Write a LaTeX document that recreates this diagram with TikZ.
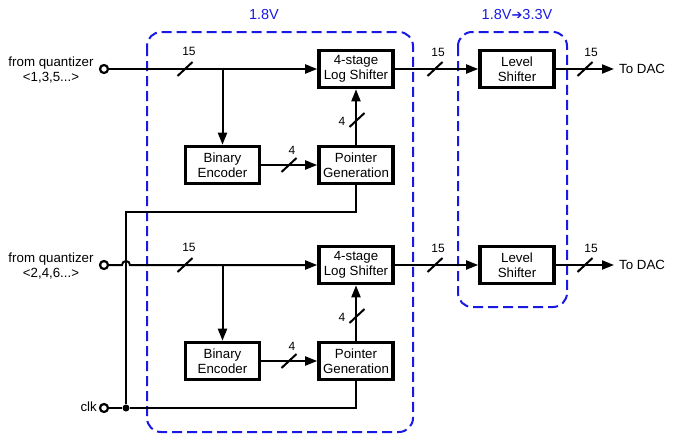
\documentclass[tikz,border=0pt]{standalone}
\usepackage{fontspec}
\setmainfont{Liberation Sans}
\newfontfamily\arrowfont{DejaVu Sans}
\usetikzlibrary{arrows.meta,calc}
\definecolor{dblue}{RGB}{25,25,230}
\newcommand\fmain{\fontsize{13.3}{15}\selectfont}
\newcommand\fsmall{\fontsize{12}{13}\selectfont}
\newcommand\fvolt{\fontsize{14.5}{17}\selectfont}
\begin{document}
\begin{tikzpicture}[x=1pt,y=-1pt,
  wire/.style={line width=2pt},
  arr/.style={wire,-{Triangle[length=12pt,width=9pt]}},
  blk/.style={draw,line width=3.6pt,minimum width=74pt,minimum height=37pt,inner sep=0pt,align=center,font=\fmain},
  term/.style={circle,draw,line width=2.2pt,fill=white,minimum size=8pt,inner sep=0pt},
  jdot/.style={circle,fill,minimum size=7pt,inner sep=0pt},
  vbox/.style={draw=dblue,line width=2pt,dash pattern=on 10pt off 5pt,rounded corners=14pt},
  lbl/.style={font=\fsmall,inner sep=0pt},
  txt/.style={font=\fmain,align=center,inner sep=0pt},
  volt/.style={font=\fvolt,text=dblue,inner sep=0pt}]
\useasboundingbox (0,0) rectangle (675,434);
% supply domains
\draw[vbox] (147,32) rectangle (413,432);
\draw[vbox] (458,32) rectangle (567,307);
\node[volt] (v1) at (264,15) {1.8V};
\node[volt] (v2) at (517,15) {1.8V{\arrowfont\fontsize{13}{15}\selectfont ➔}3.3V};
% blocks
\node[blk] (ls1) at (356,69) {4-stage\\Log Shifter};
\node[blk] (be1) at (222.5,165) {Binary\\Encoder};
\node[blk] (pg1) at (356,165) {Pointer\\Generation};
\node[blk] (lv1) at (517,69) {Level\\Shifter};
\node[blk] (ls2) at (356,265) {4-stage\\Log Shifter};
\node[blk] (be2) at (222.5,361) {Binary\\Encoder};
\node[blk] (pg2) at (356,361) {Pointer\\Generation};
\node[blk] (lv2) at (517,265) {Level\\Shifter};
% left labels
\node[txt] (q1) at (51,70) {from quantizer\\<1,3,5...>};
\node[txt] (q2) at (51,266.5) {from quantizer\\<2,4,6...>};
\node[txt,anchor=east] (clk) at (97,407) {clk};
\node[txt,anchor=west] (dac1) at (619,69) {To DAC};
\node[txt,anchor=west] (dac2) at (619,265) {To DAC};
% coordinates
\coordinate (out1) at (614,69);
\coordinate (out2) at (614,265);
\coordinate (s1) at (222.5,69);
\coordinate (s2) at (222.5,265);
\coordinate (hop) at (122,265);
\coordinate (c1) at (126,212);
% top channel
\draw[arr] (s1) -- (be1);
\draw[arr] (be1) -- (pg1);
\draw[arr] (pg1) -- (ls1);
\draw[arr] (ls1) -- (lv1);
\draw[arr] (lv1) -- (out1);
% bottom channel
\draw[arr] (s2) -- (be2);
\draw[arr] (be2) -- (pg2);
\draw[arr] (pg2) -- (ls2);
\draw[arr] (ls2) -- (lv2);
\draw[arr] (lv2) -- (out2);
% clock
\node[jdot] (j) at (126,408) {};
\draw[wire] (j) -- (c1) -| (pg1.south);
\draw[wire] (j) -- (j -| pg2) -- (pg2.south);
% inputs
\node[term] (t1) at (104,69) {};
\node[term] (t2) at (104,265) {};
\node[term] (t3) at (104,408) {};
\draw[arr] (t1) -- (ls1);
\draw[arr] (t2) -- (hop) arc[start angle=180,end angle=360,radius=4] -- (ls2);
\draw[wire] (t3) -- (j);
% bus slashes
\foreach \dy in {0,196}{
  \draw[wire,shift={(185,69+\dy)}] (-7.5,7) -- (7.5,-7);
  \draw[wire,shift={(289,165+\dy)}] (-7.5,7) -- (7.5,-7);
  \draw[wire,shift={(357,120+\dy)}] (-7.5,7) -- (7.5,-7);
  \draw[wire,shift={(435,69+\dy)}] (-7.5,7) -- (7.5,-7);
  \draw[wire,shift={(585,69+\dy)}] (-7.5,7) -- (7.5,-7);
}
\node[lbl] (n1) at (189,51) {15};
\node[lbl] (n2) at (292,150) {4};
\node[lbl] (n3) at (342,121) {4};
\node[lbl] (n4) at (438,52) {15};
\node[lbl] (n5) at (591,52) {15};
\node[lbl] (m1) at (189,247) {15};
\node[lbl] (m2) at (292,346) {4};
\node[lbl] (m3) at (342,317) {4};
\node[lbl] (m4) at (438,248) {15};
\node[lbl] (m5) at (591,248) {15};
\end{tikzpicture}
\end{document}
